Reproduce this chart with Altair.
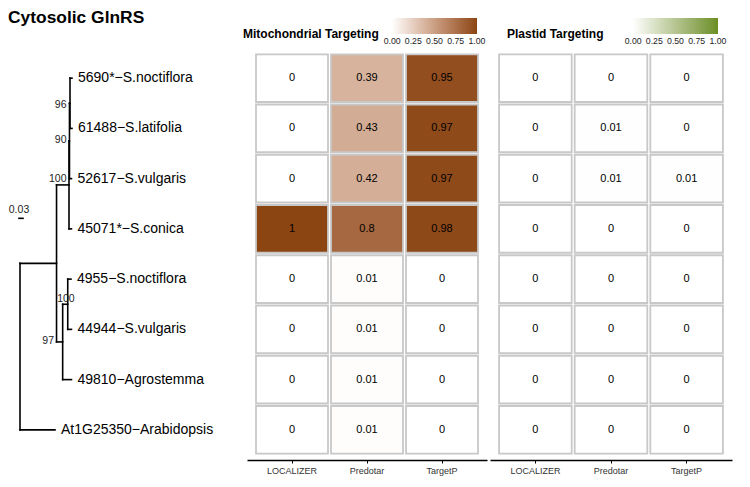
import altair as alt
import pandas as pd

# ---------------- data ----------------
chart_title = "Cytosolic GlnRS"
mito_title = "Mitochondrial Targeting"
plastid_title = "Plastid Targeting"

tips = ["5690*−S.noctiflora", "61488−S.latifolia", "52617−S.vulgaris", "45071*−S.conica",
        "4955−S.noctiflora", "44944−S.vulgaris", "49810−Agrostemma", "At1G25350−Arabidopsis"]
tools = ["LOCALIZER", "Predotar", "TargetP"]

mito_localizer = [0, 0, 0, 1, 0, 0, 0, 0]
mito_predotar = [0.39, 0.43, 0.42, 0.8, 0.01, 0.01, 0.01, 0.01]
mito_targetp = [0.95, 0.97, 0.97, 0.98, 0, 0, 0, 0]
plastid_localizer = [0, 0, 0, 0, 0, 0, 0, 0]
plastid_predotar = [0, 0.01, 0.01, 0, 0, 0, 0, 0]
plastid_targetp = [0, 0, 0.01, 0, 0, 0, 0, 0]

# tree: node name, parent, cumulative branch length from root
node_names = ["root", "A", "B", "n90", "n96", "C", "D"] + tips
node_parent = [None, "root", "A", "B", "n90", "A", "C",
               "n96", "n96", "n90", "B", "D", "D", "C", "root"]
node_depth = [0.0, 0.274, 0.3675, 0.371, 0.375, 0.32, 0.358,
              0.39, 0.39, 0.386, 0.386, 0.3825, 0.386, 0.386, 0.2625]
tip_rows = [1, 2, 3, 4, 5, 6, 7, 8]

boot_labels = ["96", "90", "100", "100", "97"]
boot_x = [0.349, 0.349, 0.349, 0.41, 0.255]
boot_y = [1.54, 2.24, 3.01, 5.40, 6.24]

scalebar_label = "0.03"
scalebar_len = 0.03
scalebar_start = -0.0075
scalebar_row = 3.79
scalebar_label_row = 3.62

legend_values = [0, 0.25, 0.5, 0.75, 1]

# ---------------- build tree geometry ----------------
depth = dict(zip(node_names, node_depth))
parent = dict(zip(node_names, node_parent))
children = {n: [c for c in node_names if parent[c] == n] for n in node_names}
row = dict(zip(tips, tip_rows))


def get_row(n):
    if n in row:
        return row[n]
    r = sum(get_row(c) for c in children[n]) / len(children[n])
    row[n] = r
    return r


for n in node_names:
    get_row(n)

segs = []
for n in node_names:
    p = parent[n]
    if p is not None:
        segs.append({"x": depth[p], "x2": depth[n], "y": row[n], "y2": row[n]})
    if children[n]:
        rs = [row[c] for c in children[n]]
        segs.append({"x": depth[n], "x2": depth[n], "y": min(rs), "y2": max(rs)})
segs.append({"x": scalebar_start, "x2": scalebar_start + scalebar_len,
             "y": scalebar_row, "y2": scalebar_row})
seg_df = pd.DataFrame(segs)

tip_df = pd.DataFrame({"label": tips, "x": [depth[t] for t in tips], "y": tip_rows})
boot_df = pd.DataFrame({"label": boot_labels, "x": boot_x, "y": boot_y})
sb_df = pd.DataFrame({"label": [scalebar_label],
                      "x": [scalebar_start + scalebar_len / 2 - 0.015],
                      "y": [scalebar_label_row]})

TREE_W, MITO_W, PLAS_W, H = 236, 240, 242, 412
xs = alt.Scale(domain=[-0.09, 1.68], nice=False, zero=False)
ys = alt.Scale(domain=[0.4, 8.6], reverse=True, nice=False, zero=False)

tree_lines = alt.Chart(seg_df).mark_rule(color="black", strokeWidth=1.6, strokeCap="square").encode(
    x=alt.X("x:Q", scale=xs, axis=None), x2="x2:Q",
    y=alt.Y("y:Q", scale=ys, axis=None), y2="y2:Q")
tip_text = alt.Chart(tip_df).mark_text(align="left", baseline="middle", dx=6, fontSize=14,
                                       color="black").encode(
    x=alt.X("x:Q", scale=xs, axis=None), y=alt.Y("y:Q", scale=ys, axis=None), text="label:N")
boot_text = alt.Chart(boot_df).mark_text(align="right", baseline="middle", fontSize=10.5,
                                         color="#222222").encode(
    x=alt.X("x:Q", scale=xs, axis=None), y=alt.Y("y:Q", scale=ys, axis=None), text="label:N")
sb_text = alt.Chart(sb_df).mark_text(align="center", baseline="middle", fontSize=10.5,
                                     color="#222222").encode(
    x=alt.X("x:Q", scale=xs, axis=None), y=alt.Y("y:Q", scale=ys, axis=None), text="label:N")

tree = alt.layer(tree_lines, tip_text, boot_text, sb_text).properties(
    width=TREE_W, height=H,
    title=alt.TitleParams(chart_title, anchor="start", fontSize=17.4, fontWeight="bold",
                          offset=22, color="black"))


# ---------------- heatmaps ----------------
def fmt(v):
    return f"{v:g}"


def heat_df(cols):
    recs = []
    for tool, vals in zip(tools, cols):
        for t, v in zip(tips, vals):
            recs.append({"tip": t, "tool": tool, "value": v, "label": fmt(v)})
    return pd.DataFrame(recs)


def heatmap(df, title, title_dx, color_max, width, legend_x):
    xsc = alt.Scale(domain=tools, paddingInner=0.04, paddingOuter=0.12)
    ysc = alt.Scale(domain=tips, paddingInner=0.05, paddingOuter=0.125)
    xenc = alt.X("tool:N", scale=xsc, sort=tools,
                 axis=alt.Axis(title=None, orient="bottom", labelAngle=0, domainColor="black",
                               domainWidth=1.5, tickColor="black", tickSize=3, tickWidth=1,
                               labelFontSize=9, labelColor="#333333", labelPadding=3,
                               grid=False))
    yenc = alt.Y("tip:N", scale=ysc, sort=tips, axis=None)
    rect = alt.Chart(df).mark_rect(stroke="#c8c8c8", strokeWidth=1.8).encode(
        x=xenc, y=yenc,
        color=alt.Color("value:Q",
                        scale=alt.Scale(domain=[-0.001, 1.001], range=["#ffffff", color_max],
                                        interpolate="lab", nice=False, zero=False),
                        legend=alt.Legend(title=None, orient="none", direction="horizontal",
                                          legendX=legend_x, legendY=-30, gradientLength=85,
                                          gradientThickness=16, values=legend_values,
                                          format=".2f", labelFontSize=8.7, labelColor="#222222",
                                          labelAlign="center", labelOffset=3,
                                          labelOverlap=False, gradientStrokeWidth=0)))
    txt = alt.Chart(df).mark_text(fontSize=11, color="black", baseline="middle").encode(
        x=xenc, y=yenc, text="label:N")
    return alt.layer(rect, txt).properties(
        width=width, height=H,
        title=alt.TitleParams(title, anchor="start", fontSize=12, fontWeight="bold",
                              offset=-23, dx=title_dx, color="black"))


mito = heatmap(heat_df([mito_localizer, mito_predotar, mito_targetp]), mito_title, -4,
               "#8B4513", MITO_W, 145)
plastid = heatmap(heat_df([plastid_localizer, plastid_predotar, plastid_targetp]), plastid_title,
                  17, "#6B8E23", PLAS_W, 143)

chart = alt.hconcat(tree, mito, plastid, spacing=3, bounds="flush").resolve_scale(
    color="independent", x="independent", y="independent").properties(
    padding={"left": 0, "top": 0, "right": 4, "bottom": 3}
).configure(font="Liberation Sans").configure_view(stroke=None)

chart.save("out.html", embed_options={"renderer": "svg", "actions": False})
